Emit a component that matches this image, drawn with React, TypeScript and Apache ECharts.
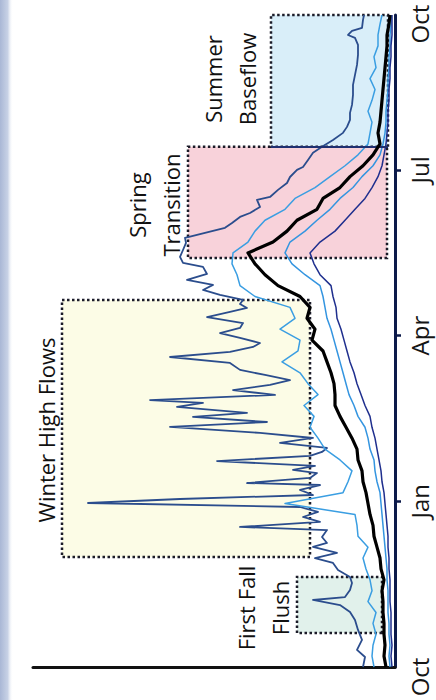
import React, { useEffect, useRef } from "react";
import * as echarts from "echarts";

// Day of water year (0 = Oct 1) for the regular-sampled series
const gridDays = [0, 6, 12, 18, 24, 30, 36, 42, 48, 54, 60, 66, 72, 78, 84, 90, 96, 102, 108, 114, 120, 126, 132, 138, 144, 150, 156, 162, 168, 174, 180, 186, 192, 198, 204, 210, 216, 222, 228, 234, 240, 246, 252, 258, 264, 270, 276, 282, 288, 294, 300, 306, 312, 318, 324, 330, 336, 342, 348, 354, 359];

// Upper (max) envelope, irregularly sampled to keep the winter spikes
const maxDays = [0, 5.5, 9.4, 14.9, 20.4, 25.9, 30.3, 34.1, 36.9, 38.5, 42.4, 46.3, 49.6, 53.4, 57.3, 60, 62.8, 66.1, 68.3, 71.6, 75.4, 77.1, 79.9, 82.6, 85.4, 88.1, 90.3, 92.5, 94.7, 97.5, 100.2, 101.3, 104.1, 106.8, 108.5, 110.7, 113.4, 116.2, 118.4, 120.6, 123.4, 126.1, 128.9, 132.2, 134.9, 137.7, 139.9, 143.2, 145.4, 147, 149.8, 152.5, 155.3, 158, 160.8, 163.6, 167.4, 170.7, 173.5, 176.2, 178.4, 181.2, 183.9, 186.7, 189.4, 192.7, 195.5, 197.7, 199.9, 202.1, 204.9, 207.6, 210.4, 213.1, 216.4, 220.3, 222.5, 225.8, 229.6, 233.5, 236.3, 239, 241.8, 244.5, 247.8, 250, 253.3, 257.2, 258.8, 262.7, 266.5, 269.8, 273.7, 275.3, 279.2, 283.1, 286.4, 290.2, 294.1, 297.4, 301.2, 305.1, 309.5, 315, 320.5, 326, 331.5, 337, 342.5, 346.4, 348, 350.2, 351.9, 356.3, 359];
const maxFlow = [32, 30, 38, 33, 37, 40, 45, 55, 82, 50, 45, 43, 45, 57, 62, 80, 58, 82, 68, 73, 68, 155, 75, 92, 77, 95, 307, 215, 82, 95, 75, 148, 85, 78, 102, 80, 178, 85, 73, 68, 115, 82, 135, 225, 128, 202, 148, 218, 192, 245, 120, 162, 125, 105, 130, 155, 165, 225, 165, 142, 135, 155, 175, 155, 152, 188, 165, 148, 155, 152, 175, 192, 182, 208, 188, 192, 212, 215, 212, 209, 210, 190, 170, 163, 155, 145, 135, 138, 125, 117, 108, 105, 98, 92, 87, 82, 73, 62, 52, 48, 45, 45, 43, 42, 42, 40, 38, 37, 37, 40, 47, 43, 33, 32, 31];

const upperFlow = [21, 23, 22, 19, 22, 19, 27, 23, 25, 29, 32, 27, 37, 38, 40, 110, 52, 47, 43, 55, 70, 77, 85, 81, 91, 77, 87, 95, 113, 97, 95, 115, 100, 105, 140, 155, 158, 163, 162, 147, 140, 130, 110, 100, 80, 65, 50, 37, 27, 25, 23, 27, 23, 20, 25, 19, 21, 17, 17, 15, 13];
const medianFlow = [9, 11, 10, 11, 11, 12, 12, 13, 11, 14, 15, 18, 21, 22, 25, 27, 29, 32, 33, 37, 38, 43, 49, 55, 60, 60, 61, 64, 68, 72, 83, 80, 88, 85, 95, 117, 130, 140, 147, 122, 108, 98, 78, 72, 55, 45, 32, 22, 15, 17, 15, 14, 13, 12, 11, 10, 9, 8, 8, 6, 5];
const lowerFlow = [5, 6, 5, 6, 6, 7, 7, 7, 8, 8, 9, 10, 11, 12, 13, 14, 15, 18, 20, 21, 25, 27, 30, 37, 41, 46, 49, 52, 55, 58, 61, 64, 68, 70, 72, 75, 90, 103, 110, 105, 90, 78, 65, 55, 42, 33, 22, 15, 12, 10, 9, 9, 8, 7, 7, 6, 6, 5, 5, 4, 4];
const minFlow = [3, 4, 3, 4, 4, 4, 5, 5, 5, 6, 6, 7, 7, 8, 9, 10, 11, 13, 14, 16, 18, 20, 23, 25, 30, 34, 38, 41, 45, 48, 51, 54, 58, 59, 62, 64, 75, 81, 85, 75, 60, 50, 40, 30, 23, 17, 13, 11, 9, 8, 7, 7, 6, 6, 5, 5, 4, 4, 3, 3, 3];

// Month tick labels on the time axis
const monthTicks = [91.25, 182.5, 273.75];
const monthLabelValues = [0, 91.25, 182.5, 273.75, 354];
const monthLabels = ["Oct", "Jan", "Apr", "Jul", "Oct"];

// Seasonal boxes: [flowFrom, flowTo, dayFrom, dayTo]
const seasonNames = ["First Fall Flush", "Winter High Flows", "Spring Transition", "Summer Baseflow"];
const seasonBoxes = [
  [13, 98, 18.7, 49.6],
  [85, 333, 60.6, 202.1],
  [8, 207, 225.2, 286.4],
  [7, 124, 286.4, 363],
];
const seasonFills = ["#e1f1eb", "#fcfce6", "#f8d2da", "#d9eef9"];

export default function App() {
  const ref = useRef<HTMLDivElement>(null);

  useEffect(() => {
    if (!ref.current) return;
    const chart = echarts.init(ref.current, undefined, { renderer: "svg" });
    const font = "Open Sans";
    const pair = (flows: number[], days: number[]) => days.map((d, i) => [flows[i], d]);

    const lineSeries = (name: string, data: number[][], color: string, width: number, z: number) => ({
      name,
      type: "line",
      data,
      showSymbol: false,
      symbol: "none",
      z,
      lineStyle: { color, width, join: "round" },
      clip: false,
    });

    const summer = seasonBoxes[3];

    chart.setOption({
      animation: false,
      backgroundColor: "#ffffff",
      textStyle: { fontFamily: font },
      grid: { left: 33, right: 41, top: 15, bottom: 33, containLabel: false },
      xAxis: {
        type: "value",
        inverse: true,
        min: 0,
        max: 362,
        position: "bottom",
        axisLine: { show: true, lineStyle: { color: "#111111", width: 3 } },
        axisTick: { show: false },
        axisLabel: { show: false },
        splitLine: { show: false },
      },
      yAxis: {
        type: "value",
        position: "right",
        min: 0,
        max: 359,
        axisLine: { show: true, onZero: false, lineStyle: { color: "#0c1a4a", width: 3 } },
        axisTick: {
          show: true,
          customValues: monthTicks,
          length: 6,
          inside: false,
          lineStyle: { color: "#0c1a4a", width: 2.5 },
        },
        axisLabel: {
          show: true,
          customValues: monthLabelValues,
          rotate: 90,
          margin: 12,
          color: "#151515",
          fontSize: 24,
          fontFamily: font,
          formatter: (v: number) => {
            const i = monthLabelValues.indexOf(v);
            const t = i >= 0 ? monthLabels[i] : "";
            return i === 0 ? "{low|" + t + "}" : t;
          },
          rich: {
            low: { fontSize: 24, fontFamily: font, color: "#151515", padding: [0, 20, 0, 0] },
          },
        },
        splitLine: { show: false },
      },
      series: [
        {
          name: "boxes",
          type: "line",
          data: [],
          z: 1,
          markArea: {
            silent: true,
            data: seasonBoxes.map((b, i) => [
              {
                name: seasonNames[i],
                xAxis: b[0],
                yAxis: b[2],
                itemStyle: {
                  color: seasonFills[i],
                  borderColor: "#1b1b28",
                  borderWidth: 2.5,
                  borderType: [2.5, 2.5],
                },
              },
              { xAxis: b[1], yAxis: b[3] },
            ]),
            label: { show: false },
          },
          markLine: {
            silent: true,
            symbol: ["none", "none"],
            label: { show: false },
            lineStyle: { color: "#1f2f70", width: 1.8, type: "solid" },
            data: [[{ coord: [summer[1], summer[2]] }, { coord: [summer[0], summer[2]] }]],
          },
        },
        lineSeries("Max", pair(maxFlow, maxDays), "#2b4d8d", 1.8, 3),
        lineSeries("Upper", pair(upperFlow, gridDays), "#3a9ee2", 1.5, 4),
        lineSeries("Lower", pair(lowerFlow, gridDays), "#3495e0", 1.5, 4),
        lineSeries("Min", pair(minFlow, gridDays), "#1f2f8e", 1.5, 4),
        lineSeries("Median", pair(medianFlow, gridDays), "#000000", 3.2, 5),
      ],
      graphic: [
        {
          type: "rect",
          left: 0,
          top: 0,
          shape: { width: 13, height: 700 },
          style: {
            fill: new echarts.graphic.LinearGradient(0, 0, 1, 0, [
              { offset: 0, color: "#a9b7d5" },
              { offset: 0.6, color: "#c8d2e6" },
              { offset: 1, color: "rgba(255,255,255,0)" },
            ]),
          },
          silent: true,
          z: 0,
        },
        ...[
          { text: "Winter High Flows", x: 46, y: 430 },
          { text: "First Fall\nFlush", x: 263, y: 608 },
          { text: "Spring\nTransition", x: 154, y: 205 },
          { text: "Summer\nBaseflow", x: 230, y: 79 },
        ].map((t) => ({
          type: "text",
          x: t.x,
          y: t.y,
          rotation: Math.PI / 2,
          z: 10,
          silent: true,
          style: {
            text: t.text,
            fontSize: 22,
            fontFamily: font,
            fill: "#111111",
            lineHeight: 34,
            align: "center",
            verticalAlign: "middle",
            textAlign: "center",
            textVerticalAlign: "middle",
          },
        })),
      ],
    });

    return () => chart.dispose();
  }, []);

  return (
    <div
      ref={ref}
      style={{ position: "fixed", left: 0, top: 0, width: 436, height: 700, background: "#ffffff" }}
    />
  );
}
